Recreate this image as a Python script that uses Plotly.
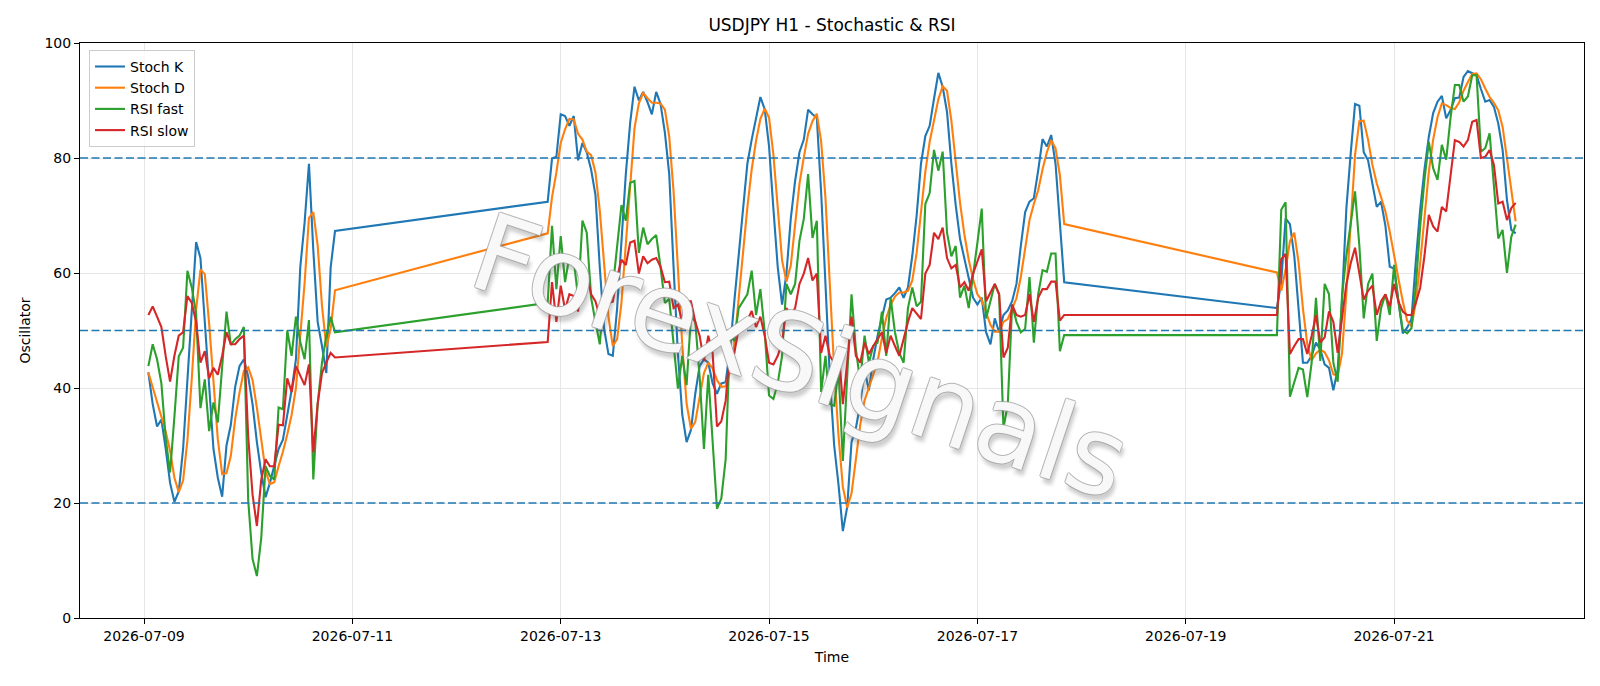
import pandas as pd
import plotly.graph_objects as go

# ---- time axis: three hourly trading segments (weekend gaps) ----
segment_starts = ["2026-07-09 01:00", "2026-07-12 21:00", "2026-07-19 21:00"]
segment_lengths = [44, 120, 56]

# ---- series values ----
stoch_k = [
    42.7, 37.2, 33.3, 34.5, 29.4, 23.5, 20.2, 22.0, 29.4, 41.4, 53.9, 65.4, 62.6, 51.5, 39.6, 29.4, 24.4, 21.1, 30.0, 33.6,
    40.2, 43.8, 45.0, 42.0, 37.2, 30.6, 25.3, 21.0, 23.5, 26.4, 29.4, 31.0, 35.4, 39.6, 45.0, 61.0, 68.8, 79.0, 64.0, 51.5,
    47.3, 42.6, 61.0, 67.3,
    72.4, 79.9, 80.2, 87.6, 87.3, 85.6, 87.3, 79.6, 82.6, 81.0, 78.0, 73.6, 61.0, 50.3, 45.9, 45.6, 53.9, 65.3, 77.2, 86.1,
    92.4, 90.0, 91.5, 89.7, 87.6, 91.5, 89.4, 84.4, 77.2, 61.0, 46.0, 35.4, 30.6, 32.7, 39.0, 43.8, 45.0, 44.4, 40.8, 39.0,
    40.8, 41.0, 46.7, 55.1, 63.5, 71.8, 79.0, 83.2, 86.7, 90.6, 88.5, 82.0, 71.2, 61.0, 54.5, 59.9, 69.4, 76.0, 81.0, 83.2,
    88.4, 87.6, 87.0, 74.0, 58.0, 42.0, 30.0, 23.2, 15.1, 19.3, 30.6, 33.0, 37.2, 43.2, 39.6, 45.0, 49.1, 52.0, 55.4, 55.7,
    56.5, 57.5, 55.7, 57.5, 63.0, 70.0, 79.0, 83.8, 85.6, 90.3, 94.8, 92.4, 88.0, 79.0, 71.8, 65.9, 62.3, 58.7, 55.7, 54.5,
    55.7, 49.7, 47.6, 52.1, 49.7, 52.7, 53.5, 55.1, 58.1, 64.7, 70.6, 72.4, 73.0, 77.8, 83.3, 82.0, 84.0, 79.0, 68.0, 58.4,
    53.9, 58.5, 69.5, 68.5, 63.0, 54.0, 44.4, 44.4, 45.6, 47.9, 46.7, 44.1, 43.5, 39.6, 43.2, 55.1, 71.2, 80.8, 89.4, 89.1,
    81.0, 79.6, 75.7, 71.5, 72.4, 68.2, 61.1, 60.8, 55.1, 49.5, 50.5, 52.0, 62.0, 71.0, 78.0, 83.7, 87.8, 89.8, 90.8, 86.9,
    88.3, 90.4, 90.5, 94.1, 95.1, 94.7, 94.4, 92.0, 89.8, 90.1, 88.9, 86.0, 81.4, 72.7, 67.5, 66.9,
]
stoch_d = [
    42.7, 40.0, 37.7, 35.0, 32.4, 29.1, 24.4, 21.9, 23.9, 30.9, 41.6, 53.6, 60.6, 59.8, 51.2, 40.2, 31.1, 25.0, 25.2, 28.2,
    34.6, 39.2, 43.0, 43.6, 41.4, 36.6, 31.0, 25.6, 23.3, 23.6, 26.4, 28.9, 31.9, 35.3, 40.0, 48.5, 58.3, 69.6, 70.6, 64.8,
    54.3, 47.1, 50.3, 57.0,
    66.9, 73.2, 77.5, 82.6, 85.0, 86.8, 86.7, 84.2, 83.2, 81.1, 80.5, 77.5, 70.9, 61.6, 52.4, 47.3, 48.5, 54.9, 65.5, 76.2,
    85.2, 89.5, 91.3, 90.4, 89.6, 89.6, 89.5, 88.4, 83.7, 74.2, 61.4, 47.5, 37.3, 32.9, 34.1, 38.5, 42.6, 44.4, 43.4, 41.4,
    40.2, 40.3, 42.8, 47.6, 55.1, 63.5, 71.4, 78.0, 83.0, 86.8, 88.6, 87.0, 80.6, 71.4, 62.2, 58.5, 61.3, 68.4, 75.5, 80.1,
    84.2, 86.4, 87.7, 82.9, 73.0, 58.0, 43.3, 31.7, 22.8, 19.2, 21.7, 27.6, 33.6, 37.8, 40.0, 42.6, 44.6, 48.7, 52.2, 54.4,
    55.9, 56.6, 56.6, 56.9, 58.7, 63.5, 70.7, 77.6, 82.8, 86.6, 90.2, 92.5, 91.7, 86.5, 79.6, 72.2, 66.7, 62.3, 58.9, 56.3,
    55.3, 53.3, 51.0, 49.8, 49.8, 51.5, 52.0, 53.8, 55.6, 59.3, 64.5, 69.2, 72.0, 74.4, 78.0, 81.0, 83.1, 81.7, 77.0, 68.5,
    60.1, 56.9, 60.6, 65.5, 67.0, 61.8, 53.8, 47.6, 44.8, 46.0, 46.7, 46.2, 44.8, 42.4, 42.1, 46.0, 56.5, 69.0, 80.5, 86.4,
    86.5, 83.2, 78.8, 75.6, 73.2, 70.7, 67.2, 63.4, 59.0, 55.1, 51.7, 50.7, 54.8, 61.7, 70.3, 77.6, 83.2, 87.1, 89.5, 89.2,
    88.7, 88.5, 89.7, 91.7, 93.2, 94.6, 94.7, 93.7, 92.1, 90.6, 89.6, 88.3, 85.4, 80.0, 73.9, 69.0,
]
rsi_fast = [
    43.8, 47.6, 45.0, 40.8, 31.2, 25.3, 35.0, 45.5, 47.0, 60.4, 57.5, 53.0, 36.5, 41.5, 32.5, 37.5, 34.0, 44.0, 53.3, 47.5,
    48.5, 49.1, 50.6, 20.5, 10.3, 7.3, 13.9, 26.4, 24.7, 24.1, 36.6, 36.3, 50.0, 45.6, 52.4, 48.0, 45.0, 51.8, 24.1, 37.2,
    44.4, 49.1, 52.4, 49.7,
    54.8, 68.2, 57.2, 66.4, 58.4, 62.9, 62.3, 55.7, 69.1, 67.0, 55.7, 51.5, 47.6, 56.9, 55.7, 57.5, 64.7, 71.8, 69.1, 75.7,
    76.0, 63.5, 67.9, 65.0, 65.9, 66.6, 61.0, 54.8, 55.5, 47.0, 39.9, 45.6, 40.5, 52.4, 51.5, 42.0, 29.4, 42.3, 31.0, 19.0,
    20.8, 27.6, 49.1, 48.2, 53.9, 55.1, 56.3, 60.4, 52.7, 57.2, 49.7, 38.7, 38.1, 40.8, 45.6, 58.1, 56.3, 58.1, 65.6, 69.4,
    77.2, 66.1, 69.1, 39.3, 45.6, 37.2, 36.9, 43.2, 27.3, 42.0, 56.3, 46.7, 41.1, 49.1, 44.4, 47.3, 47.9, 53.3, 45.6, 55.7,
    49.7, 46.1, 44.4, 53.9, 57.5, 54.2, 55.0, 72.0, 73.9, 81.4, 77.8, 81.1, 67.0, 62.9, 64.7, 55.7, 57.8, 53.9, 59.3, 65.3,
    71.2, 52.1, 55.1, 58.1, 56.3, 33.0, 37.2, 54.5, 51.5, 49.7, 50.3, 59.3, 47.9, 56.3, 60.5, 60.2, 63.4, 63.4, 46.4, 49.2,
    49.2, 71.0, 72.3, 38.5, 41.0, 43.5, 43.2, 38.4, 44.4, 55.7, 44.7, 58.1, 56.3, 44.4, 41.1, 56.0, 63.0, 68.5, 74.2, 64.7,
    52.1, 58.1, 59.9, 48.2, 53.9, 56.3, 52.7, 61.4, 55.0, 50.1, 49.5, 50.4, 57.7, 68.0, 76.2, 82.8, 78.2, 76.2, 82.3, 79.7,
    87.0, 92.7, 92.7, 89.8, 90.7, 94.4, 94.4, 81.1, 81.7, 84.3, 75.0, 66.0, 67.5, 60.0, 66.3, 68.4,
]
rsi_slow = [
    52.7, 54.2, 52.4, 50.6, 45.5, 41.1, 45.6, 49.1, 49.7, 56.0, 54.8, 51.5, 44.4, 46.4, 41.7, 43.5, 42.3, 45.6, 49.7, 47.6,
    47.6, 48.5, 49.1, 31.5, 21.5, 16.0, 24.0, 27.6, 26.4, 26.4, 33.6, 33.5, 41.7, 39.3, 43.8, 42.0, 40.5, 44.1, 28.8, 37.2,
    42.6, 44.4, 46.1, 45.3,
    48.0, 58.4, 51.5, 57.8, 53.6, 56.3, 56.0, 53.3, 61.1, 59.9, 56.3, 55.1, 52.4, 53.9, 54.8, 55.0, 59.3, 62.3, 61.4, 65.3,
    65.6, 59.9, 62.9, 61.7, 62.3, 62.6, 61.1, 58.4, 58.5, 53.9, 54.5, 51.5, 55.1, 55.1, 51.5, 49.1, 44.7, 49.1, 46.1, 33.3,
    34.2, 37.8, 46.7, 46.1, 50.3, 50.9, 51.8, 53.4, 50.6, 52.4, 49.1, 44.4, 44.1, 45.6, 47.9, 53.9, 52.7, 53.9, 58.1, 59.9,
    62.6, 58.7, 59.9, 46.1, 49.1, 45.6, 44.4, 47.0, 37.2, 44.4, 52.4, 45.6, 44.4, 47.9, 45.9, 47.3, 48.5, 49.7, 46.1, 49.1,
    47.3, 45.6, 48.5, 51.5, 53.9, 53.0, 52.0, 59.9, 61.4, 67.0, 65.9, 67.9, 62.6, 60.8, 61.4, 57.5, 58.4, 56.9, 59.9, 62.0,
    64.1, 55.1, 56.6, 58.1, 56.3, 45.3, 47.0, 54.5, 52.7, 52.4, 52.7, 56.3, 51.5, 55.7, 57.2, 57.2, 58.5, 58.5, 51.7, 52.7,
    52.7, 62.4, 63.3, 45.9, 47.3, 48.5, 48.5, 45.9, 49.1, 52.7, 47.9, 48.8, 53.3, 51.5, 46.1, 52.0, 58.1, 61.7, 64.4, 59.9,
    55.4, 56.9, 57.8, 52.7, 55.1, 56.3, 54.2, 58.1, 55.0, 53.3, 52.7, 52.7, 54.8, 57.4, 63.0, 70.1, 68.1, 67.2, 71.5, 70.7,
    77.0, 83.1, 82.8, 82.0, 83.1, 86.3, 86.6, 80.0, 80.2, 81.4, 78.8, 72.1, 72.4, 69.2, 71.3, 72.2,
]
levels = [20, 50, 80]
tick_dates = ["2026-07-09", "2026-07-11", "2026-07-13", "2026-07-15", "2026-07-17", "2026-07-19", "2026-07-21"]

times = []
for start, n in zip(segment_starts, segment_lengths):
    times += list(pd.date_range(start, periods=n, freq="h"))

FONT = "DejaVu Sans"
fig = go.Figure()
for name, vals, col in [("Stoch K", stoch_k, "#1f77b4"), ("Stoch D", stoch_d, "#ff7f0e"),
                        ("RSI fast", rsi_fast, "#2ca02c"), ("RSI slow", rsi_slow, "#d62728")]:
    fig.add_trace(go.Scatter(x=times, y=vals, mode="lines", name=name,
                             line=dict(color=col, width=2.1)))

for lv in levels:
    fig.add_shape(type="line", xref="paper", x0=0, x1=1, yref="y", y0=lv, y1=lv,
                  line=dict(color="#1f77b4", width=1.5, dash="8px,3.5px"), layer="above")

t0, t1 = times[0], times[-1]
pad = (t1 - t0) * 0.05
fig.update_layout(
    width=1600, height=686,
    margin=dict(l=80, r=16, t=43, b=68),
    paper_bgcolor="white", plot_bgcolor="white",
    font=dict(family=FONT, size=14, color="black"),
    title=dict(text="USDJPY H1 - Stochastic & RSI", x=0.5, xref="paper", xanchor="center",
               y=1 - 25 / 686, yref="container", yanchor="middle",
               font=dict(family=FONT, size=17, color="black")),
    showlegend=True,
    legend=dict(x=0.006, y=0.988, xanchor="left", yanchor="top",
                bgcolor="rgba(255,255,255,0.8)", bordercolor="#cccccc", borderwidth=1,
                font=dict(family=FONT, size=14, color="black"), tracegroupgap=0),
    xaxis=dict(range=[t0 - pad, t1 + pad], tickvals=pd.to_datetime(tick_dates),
               ticktext=tick_dates, showline=True, linecolor="black", linewidth=1.1, mirror=True,
               ticks="outside", ticklen=5, tickwidth=1.1, tickcolor="black",
               showgrid=True, gridcolor="#e6e6e6", gridwidth=1, zeroline=False,
               tickfont=dict(family=FONT, size=14, color="black"),
               title=dict(text="Time", font=dict(family=FONT, size=14, color="black"), standoff=9)),
    yaxis=dict(range=[0, 100], tickvals=[0, 20, 40, 60, 80, 100],
               showline=True, linecolor="black", linewidth=1.1, mirror=True,
               ticks="outside", ticklen=5, tickwidth=1.1, tickcolor="black",
               showgrid=True, gridcolor="#e6e6e6", gridwidth=1, zeroline=False,
               tickfont=dict(family=FONT, size=14, color="black"),
               title=dict(text="Oscillator", font=dict(family=FONT, size=14, color="black"), standoff=10)),
)

# ---- watermark (drawn beneath the lines) ----
outline = "rgba(160,160,160,0.8)"
wm_shadow = (f"1px 0 0 {outline}, -1px 0 0 {outline}, 0 1px 0 {outline}, "
             f"0 -1px 0 {outline}, 4px 5px 4px rgba(80,80,80,0.3)")
wm_text = "ForexSignals"
x0p, y0p, x1p, y1p = 0.2902, 0.6181, 0.6685, 0.2872
added = False
for lay in ("between", "below"):
    try:
        fig.add_shape(type="line", xref="paper", yref="paper", x0=x0p, y0=y0p, x1=x1p, y1=y1p,
                      line=dict(color="rgba(0,0,0,0)", width=0), layer=lay,
                      label=dict(text=wm_text, textposition="middle", textangle="auto",
                                 xanchor="center", yanchor="middle", padding=0,
                                 font=dict(family=FONT, size=108, color="rgba(255,255,255,1)",
                                           shadow=wm_shadow)))
        added = True
        break
    except Exception:
        continue
if not added:
    fig.add_annotation(text=wm_text, xref="paper", yref="paper", x=0.479, y=0.455,
                       showarrow=False, textangle=18.5,
                       font=dict(family=FONT, size=108, color="rgba(255,255,255,0.92)", shadow=wm_shadow))

fig.write_html("out.html")
